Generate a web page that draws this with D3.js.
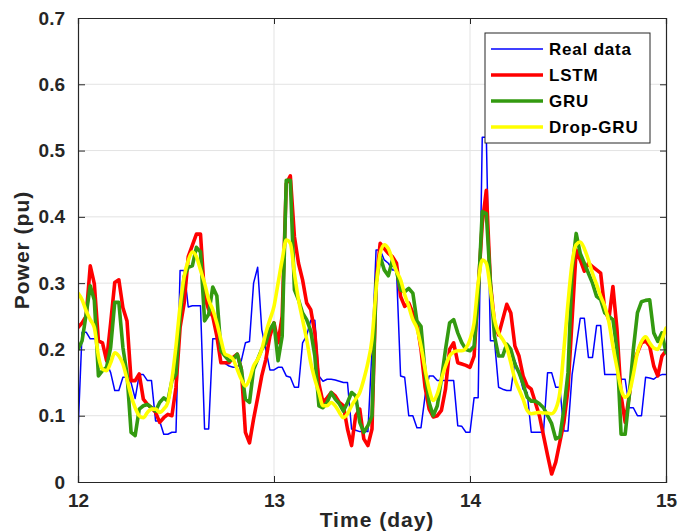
<!DOCTYPE html>
<meta charset='utf-8'>
<body style="margin:0;background:#fff">
<script src='https://d3js.org/d3.v7.min.js'></script>
<script>
  // half-hour samples from day 12 to day 15
  const startDay = 12;
  const step = 1 / 48;

  const realData = [
    0.075, 0.226, 0.226, 0.216, 0.216, 0.213, 0.21, 0.18, 0.165, 0.138, 0.138, 0.158, 0.158, 0.15, 0.126, 0.162, 0.162, 0.153, 0.153, 0.092, 0.092, 0.072, 0.072, 0.075, 0.075, 0.319, 0.319, 0.264, 0.266, 0.266, 0.266, 0.08, 0.08, 0.216, 0.216, 0.179, 0.179,
    0.175, 0.173, 0.173, 0.183, 0.21, 0.212, 0.3, 0.324, 0.23, 0.2, 0.169, 0.169, 0.173, 0.173, 0.16, 0.158, 0.143, 0.143, 0.21, 0.221, 0.244, 0.244, 0.16, 0.152, 0.155, 0.155, 0.154, 0.152, 0.15, 0.15, 0.08, 0.078, 0.076, 0.076, 0.076,
    0.2, 0.35, 0.35, 0.335, 0.33, 0.32, 0.32, 0.16, 0.158, 0.1, 0.1, 0.082, 0.082, 0.13, 0.16, 0.16, 0.153, 0.153, 0.153, 0.153, 0.153, 0.085, 0.084, 0.075, 0.075, 0.127, 0.127, 0.52, 0.52, 0.213, 0.213, 0.143, 0.14, 0.138, 0.138, 0.183,
    0.165, 0.14, 0.135, 0.075, 0.075, 0.075, 0.075, 0.165, 0.165, 0.143, 0.143, 0.077, 0.077, 0.162, 0.205, 0.247, 0.247, 0.188, 0.188, 0.236, 0.236, 0.162, 0.162, 0.162, 0.162, 0.155, 0.155, 0.112, 0.112, 0.1, 0.1, 0.158, 0.157, 0.155, 0.16, 0.162, 0.162
  ];

  const lstm = [
    0.233, 0.24, 0.25, 0.326, 0.299, 0.213, 0.21, 0.183, 0.24, 0.301, 0.305, 0.263, 0.243, 0.153, 0.153, 0.163, 0.125, 0.117, 0.112, 0.105, 0.09, 0.097, 0.102, 0.1, 0.143, 0.233, 0.27, 0.34, 0.357, 0.374, 0.374, 0.28, 0.26, 0.25, 0.22, 0.18, 0.18,
    0.18, 0.188, 0.193, 0.17, 0.075, 0.059, 0.095, 0.127, 0.16, 0.185, 0.22, 0.24, 0.21, 0.25, 0.45, 0.462, 0.37, 0.33, 0.305, 0.27, 0.26, 0.225, 0.148, 0.12, 0.127, 0.135, 0.13, 0.12, 0.115, 0.08, 0.055, 0.1, 0.11, 0.065, 0.055,
    0.08, 0.3, 0.36, 0.352, 0.345, 0.34, 0.33, 0.28, 0.265, 0.27, 0.255, 0.24, 0.2, 0.143, 0.11, 0.098, 0.1, 0.108, 0.14, 0.2, 0.21, 0.18, 0.178, 0.176, 0.173, 0.19, 0.29, 0.39, 0.44, 0.3, 0.24, 0.222, 0.245, 0.268, 0.255, 0.205,
    0.19, 0.16, 0.145, 0.14, 0.12, 0.1, 0.07, 0.04, 0.012, 0.03, 0.06, 0.09, 0.14, 0.245, 0.35, 0.335, 0.318, 0.33, 0.325, 0.32, 0.315, 0.26, 0.245, 0.295, 0.23, 0.13, 0.09, 0.13, 0.18, 0.195, 0.21, 0.213, 0.205, 0.175, 0.16, 0.19, 0.198
  ];

  const gru = [
    0.2, 0.213, 0.253, 0.296, 0.274, 0.16, 0.168, 0.173, 0.203, 0.271, 0.271, 0.203, 0.163, 0.075, 0.07, 0.11, 0.115, 0.117, 0.112, 0.107, 0.12, 0.127, 0.122, 0.153, 0.163, 0.25, 0.31, 0.324, 0.326, 0.354, 0.347, 0.243, 0.253, 0.294, 0.281, 0.198, 0.19,
    0.183, 0.185, 0.193, 0.17, 0.125, 0.12, 0.17, 0.185, 0.2, 0.21, 0.23, 0.24, 0.183, 0.22, 0.455, 0.455, 0.29, 0.275, 0.255, 0.245, 0.228, 0.19, 0.115, 0.112, 0.12, 0.135, 0.125, 0.118, 0.107, 0.12, 0.135, 0.13, 0.09, 0.075, 0.085,
    0.1, 0.3, 0.34, 0.32, 0.311, 0.335, 0.318, 0.29, 0.287, 0.292, 0.285, 0.243, 0.235, 0.165, 0.12, 0.1, 0.115, 0.155, 0.2, 0.24, 0.245, 0.225, 0.21, 0.2, 0.198, 0.205, 0.28, 0.408, 0.405, 0.3, 0.22, 0.19, 0.19, 0.208, 0.2, 0.178,
    0.165, 0.148, 0.128, 0.122, 0.122, 0.118, 0.112, 0.1, 0.088, 0.065, 0.068, 0.11, 0.165, 0.32, 0.375, 0.345, 0.33, 0.315, 0.3, 0.28, 0.275, 0.255, 0.25, 0.245, 0.2, 0.072, 0.072, 0.13, 0.2, 0.255, 0.272, 0.274, 0.275, 0.225, 0.212, 0.225, 0.195
  ];

  const dropGru = [
    0.285, 0.275, 0.258, 0.245, 0.233, 0.19, 0.17, 0.168, 0.18, 0.195, 0.19, 0.178, 0.155, 0.13, 0.112, 0.1, 0.097, 0.105, 0.11, 0.11, 0.105, 0.11, 0.12, 0.155, 0.205, 0.265, 0.31, 0.334, 0.347, 0.34, 0.32, 0.3, 0.275, 0.26, 0.24, 0.215, 0.193,
    0.19, 0.185, 0.17, 0.155, 0.145, 0.155, 0.175, 0.185, 0.2, 0.225, 0.245, 0.265, 0.3, 0.335, 0.365, 0.36, 0.315, 0.275, 0.245, 0.215, 0.18, 0.155, 0.135, 0.115, 0.115, 0.12, 0.115, 0.105, 0.097, 0.103, 0.115, 0.125, 0.135, 0.155, 0.18,
    0.215, 0.29, 0.345, 0.358, 0.352, 0.335, 0.318, 0.305, 0.283, 0.265, 0.245, 0.232, 0.205, 0.17, 0.14, 0.123, 0.133, 0.155, 0.175, 0.19, 0.196, 0.198, 0.198, 0.202, 0.215, 0.24, 0.3, 0.335, 0.33, 0.29, 0.245, 0.225, 0.215, 0.203, 0.18, 0.155,
    0.14, 0.125, 0.108, 0.103, 0.104, 0.105, 0.104, 0.104, 0.103, 0.11, 0.135, 0.2, 0.27, 0.33, 0.358, 0.362, 0.352, 0.335, 0.315, 0.298, 0.28, 0.265, 0.242, 0.205, 0.172, 0.14, 0.128, 0.135, 0.162, 0.195, 0.212, 0.219, 0.21, 0.202, 0.2, 0.215, 0.232
  ];

  const seriesNames = ['Real data', 'LSTM', 'GRU', 'Drop-GRU'];
  const seriesColors = ['#0000ff', '#ff0000', '#339a10', '#ffff00'];
  const xTicks = [12, 13, 14, 15];
  const yTicks = [0, 0.1, 0.2, 0.3, 0.4, 0.5, 0.6, 0.7];

  const margin = { top: 18, right: 12, bottom: 50, left: 78 };
  const W = 678, H = 532;
  const width = W - margin.left - margin.right;
  const height = H - margin.top - margin.bottom;
  const axisColor = '#262626';
  const font = "'Liberation Sans', Arial, sans-serif";

  const x = d3.scaleLinear().domain([12, 15]).range([0, width]);
  const y = d3.scaleLinear().domain([0, 0.7]).range([height, 0]);

  const svg = d3.select('body').append('svg')
    .attr('width', W)
    .attr('height', H)
    .style('font-family', font);

  const g = svg.append('g')
    .attr('transform', `translate(${margin.left},${margin.top})`);

  // grid
  g.append('g').selectAll('line')
    .data(yTicks.slice(1, -1))
    .join('line')
      .attr('x1', 0).attr('x2', width)
      .attr('y1', d => y(d)).attr('y2', d => y(d))
      .attr('stroke', '#e3e3e3').attr('stroke-width', 1);
  g.append('g').selectAll('line')
    .data(xTicks.slice(1, -1))
    .join('line')
      .attr('x1', d => x(d)).attr('x2', d => x(d))
      .attr('y1', 0).attr('y2', height)
      .attr('stroke', '#e3e3e3').attr('stroke-width', 1);

  // series
  const toPoints = arr => arr.map((v, i) => ({ t: startDay + i * step, v }));
  const allSeries = [realData, lstm, gru, dropGru];
  const widths = [1.5, 3.6, 3.6, 3.6];

  const clip = svg.append('defs').append('clipPath').attr('id', 'plotclip');
  clip.append('rect').attr('width', width).attr('height', height);

  const plot = g.append('g').attr('clip-path', 'url(#plotclip)');
  allSeries.forEach((s, i) => {
    const line = d3.line()
      .x(d => x(d.t))
      .y(d => y(d.v))
      .curve(i === 3 ? d3.curveMonotoneX : d3.curveLinear);
    plot.append('path')
      .datum(toPoints(s))
      .attr('fill', 'none')
      .attr('stroke', seriesColors[i])
      .attr('stroke-width', widths[i])
      .attr('stroke-linejoin', 'round')
      .attr('stroke-linecap', 'round')
      .attr('d', line);
  });

  // axes (MATLAB-style box with inward ticks)
  const axLeft = g.append('g')
    .call(d3.axisLeft(y).tickValues(yTicks).tickSize(-7).tickPadding(12).tickFormat(d => d === 0 ? '0' : d3.format('.1f')(d)));
  const axRight = g.append('g')
    .attr('transform', `translate(${width},0)`)
    .call(d3.axisRight(y).tickValues(yTicks).tickSize(-6).tickFormat(''));
  const axBottom = g.append('g')
    .attr('transform', `translate(0,${height})`)
    .call(d3.axisBottom(x).tickValues(xTicks).tickSize(-6).tickPadding(12).tickFormat(d3.format('d')));
  const axTop = g.append('g')
    .call(d3.axisTop(x).tickValues(xTicks).tickSize(-6).tickFormat(''));

  [axLeft, axRight, axBottom, axTop].forEach(a => {
    a.select('.domain').attr('stroke', axisColor).attr('stroke-width', 1.2);
    a.selectAll('.tick line').attr('stroke', axisColor).attr('stroke-width', 1);
    a.selectAll('.tick text')
      .attr('fill', '#262626')
      .style('font-family', font)
      .style('font-size', '19px')
      .style('font-weight', 'bold');
  });
  axLeft.selectAll('.tick text').attr('x', -13);

  // axis titles
  svg.append('text')
    .attr('x', 377)
    .attr('y', 527)
    .attr('text-anchor', 'middle')
    .style('font-size', '21px')
    .style('font-weight', 'bold')
    .style('letter-spacing', '1px')
    .attr('fill', '#262626')
    .text('Time (day)');

  svg.append('text')
    .attr('transform', `translate(29,${margin.top + y(0.35)}) rotate(-90)`)
    .attr('text-anchor', 'middle')
    .style('font-size', '21px')
    .style('font-weight', 'bold')
    .style('letter-spacing', '1px')
    .attr('fill', '#262626')
    .text('Power (pu)');

  // legend
  const legend = svg.append('g').attr('transform', 'translate(485,33)');
  legend.append('rect')
    .attr('width', 165)
    .attr('height', 110)
    .attr('fill', '#fff')
    .attr('stroke', axisColor)
    .attr('stroke-width', 1);
  seriesNames.forEach((name, i) => {
    const row = legend.append('g').attr('transform', `translate(0,${16 + i * 26})`);
    row.append('line')
      .attr('x1', 6).attr('x2', 58)
      .attr('stroke', seriesColors[i])
      .attr('stroke-width', widths[i]);
    row.append('text')
      .attr('x', 64)
      .attr('dy', '0.36em')
      .style('font-size', '17px')
      .style('font-weight', 'bold')
      .style('letter-spacing', '0.8px')
      .attr('fill', '#000')
      .text(name);
  });
</script>
</body>
